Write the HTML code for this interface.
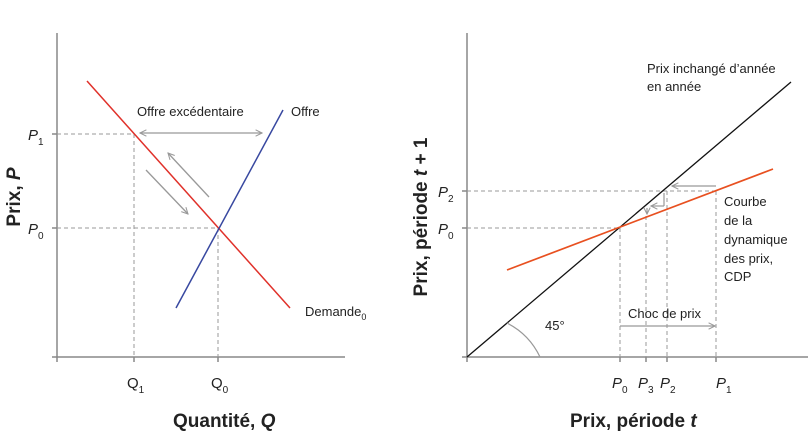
<!DOCTYPE html>
<html><head><meta charset="utf-8"><style>
html,body{margin:0;padding:0;background:#fff}
svg text{font-family:"Liberation Sans",sans-serif;fill:#222}
</style></head><body>
<svg width="810" height="441" viewBox="0 0 810 441" xmlns="http://www.w3.org/2000/svg">
<defs>
<marker id="a" viewBox="0 0 10 10" refX="9" refY="5" markerWidth="8" markerHeight="8" orient="auto-start-reverse" markerUnits="userSpaceOnUse"><path d="M1,1 L9,5 L1,9" fill="none" stroke="#999" stroke-width="1.3"/></marker>
</defs>
<!-- Left panel axes -->
<g stroke="#888" stroke-width="1.5" fill="none">
<line x1="57" y1="33" x2="57" y2="362"/>
<line x1="52" y1="357" x2="345" y2="357"/>
<line x1="134" y1="357" x2="134" y2="362"/>
<line x1="218" y1="357" x2="218" y2="362"/>
<line x1="52" y1="134" x2="57" y2="134"/>
<line x1="52" y1="228" x2="57" y2="228"/>
</g>
<g stroke="#999" stroke-width="1" stroke-dasharray="4,3" fill="none">
<line x1="57" y1="134" x2="134" y2="134"/>
<line x1="134" y1="134" x2="134" y2="357"/>
<line x1="57" y1="228" x2="218" y2="228"/>
<line x1="218" y1="228" x2="218" y2="357"/>
</g>
<line x1="87" y1="81" x2="290" y2="308" stroke="#e0312a" stroke-width="1.5"/>
<line x1="176" y1="308" x2="283" y2="110" stroke="#3848a0" stroke-width="1.5"/>
<g stroke="#999" stroke-width="1.3" fill="none">
<line x1="140" y1="133" x2="262" y2="133" marker-start="url(#a)" marker-end="url(#a)"/>
<line x1="209" y1="197" x2="168" y2="153" marker-end="url(#a)"/>
<line x1="146" y1="170" x2="188" y2="214" marker-end="url(#a)"/>
</g>
<text x="137" y="116" font-size="13">Offre excédentaire</text>
<text x="291" y="116" font-size="13">Offre</text>
<text x="305" y="316" font-size="13">Demande<tspan font-size="9" dy="4">0</tspan></text>
<text x="28" y="140" font-size="15" font-style="italic">P<tspan font-size="10" font-style="normal" dy="5">1</tspan></text>
<text x="28" y="234" font-size="15" font-style="italic">P<tspan font-size="10" font-style="normal" dy="5">0</tspan></text>
<text x="127" y="388" font-size="15">Q<tspan font-size="10" dy="5">1</tspan></text>
<text x="211" y="388" font-size="15">Q<tspan font-size="10" dy="5">0</tspan></text>
<text x="173" y="427" font-size="19" font-weight="bold" style="fill:#222">Quantité, <tspan font-style="italic">Q</tspan></text>
<text transform="translate(20,197) rotate(-90)" font-size="19" font-weight="bold" text-anchor="middle">Prix, <tspan font-style="italic">P</tspan></text>

<!-- Right panel -->
<g stroke="#888" stroke-width="1.5" fill="none">
<line x1="467" y1="33" x2="467" y2="362"/>
<line x1="462" y1="357" x2="808" y2="357"/>
<line x1="620" y1="357" x2="620" y2="362"/>
<line x1="646" y1="357" x2="646" y2="362"/>
<line x1="667" y1="357" x2="667" y2="362"/>
<line x1="716" y1="357" x2="716" y2="362"/>
<line x1="462" y1="191" x2="467" y2="191"/>
<line x1="462" y1="228" x2="467" y2="228"/>
</g>
<g stroke="#999" stroke-width="1" stroke-dasharray="4,3" fill="none">
<line x1="467" y1="191" x2="716" y2="191"/>
<line x1="467" y1="228" x2="620" y2="228"/>
<line x1="620" y1="228" x2="620" y2="357"/>
<line x1="646" y1="216" x2="646" y2="357"/>
<line x1="667" y1="191" x2="667" y2="357"/>
<line x1="716" y1="191" x2="716" y2="357"/>
</g>
<line x1="467" y1="357" x2="791" y2="82" stroke="#111" stroke-width="1.3"/>
<line x1="507" y1="270" x2="773" y2="169" stroke="#e85020" stroke-width="1.7"/>
<g stroke="#999" stroke-width="1.2" fill="none">
<line x1="716" y1="186" x2="672" y2="186" marker-end="url(#a)"/>
<line x1="664" y1="193" x2="664" y2="206" />
<line x1="664" y1="206" x2="651" y2="206" marker-end="url(#a)"/>
<line x1="647" y1="208" x2="647" y2="214" marker-end="url(#a)"/>
<line x1="620" y1="326" x2="715" y2="326" marker-end="url(#a)"/>
<path d="M540,357 A73,73 0 0 0 507,323"/>
</g>
<text x="647" y="73" font-size="13">Prix inchangé d’année</text>
<text x="647" y="91" font-size="13">en année</text>
<text x="724" y="206" font-size="13">Courbe</text>
<text x="724" y="225" font-size="13">de la</text>
<text x="724" y="244" font-size="13">dynamique</text>
<text x="724" y="263" font-size="13">des prix,</text>
<text x="724" y="281" font-size="13">CDP</text>
<text x="628" y="318" font-size="13">Choc de prix</text>
<text x="545" y="330" font-size="13">45°</text>
<text x="438" y="197" font-size="15" font-style="italic">P<tspan font-size="10" font-style="normal" dy="5">2</tspan></text>
<text x="438" y="234" font-size="15" font-style="italic">P<tspan font-size="10" font-style="normal" dy="5">0</tspan></text>
<text x="612" y="388" font-size="15" font-style="italic">P<tspan font-size="10" font-style="normal" dy="5">0</tspan></text>
<text x="638" y="388" font-size="15" font-style="italic">P<tspan font-size="10" font-style="normal" dy="5">3</tspan></text>
<text x="660" y="388" font-size="15" font-style="italic">P<tspan font-size="10" font-style="normal" dy="5">2</tspan></text>
<text x="716" y="388" font-size="15" font-style="italic">P<tspan font-size="10" font-style="normal" dy="5">1</tspan></text>
<text x="570" y="427" font-size="19" font-weight="bold">Prix, période <tspan font-style="italic">t</tspan></text>
<text transform="translate(427,217) rotate(-90)" font-size="19" font-weight="bold" text-anchor="middle">Prix, période <tspan font-style="italic">t</tspan> + 1</text>
</svg>
</body></html>
